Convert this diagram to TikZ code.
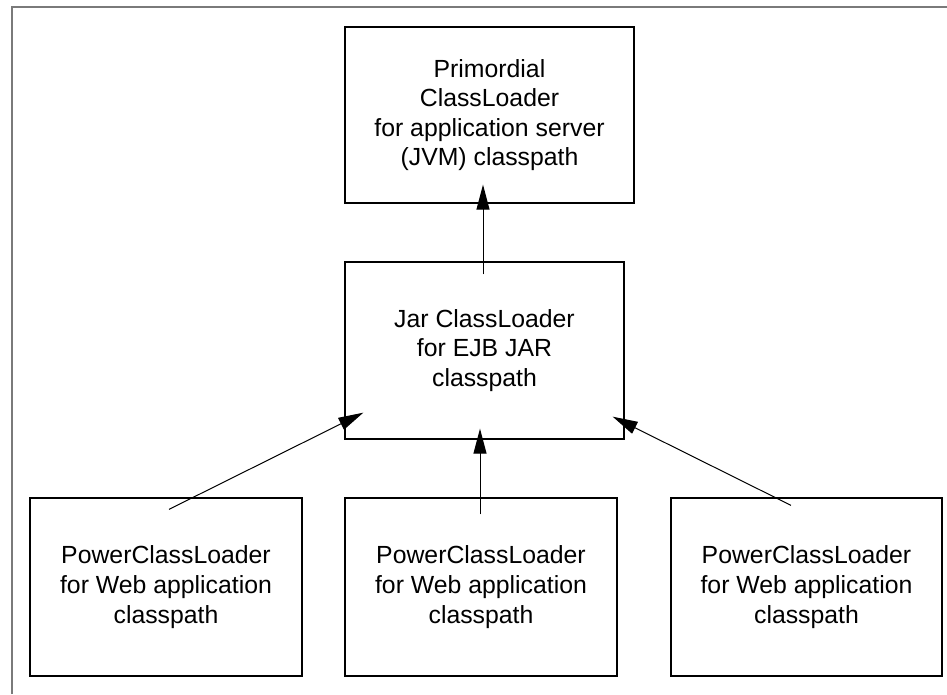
\documentclass[tikz,border=0pt]{standalone}
\usepackage{fontspec}
\setmainfont{Liberation Sans}
\usepackage{xcolor}
\usetikzlibrary{positioning,arrows.meta,calc}
\definecolor{framegrey}{HTML}{7A7A7A}

\begin{document}
\begin{tikzpicture}[x=1pt,y=-1pt,
  loader/.style={draw=black,line width=1.3pt,align=center,font=\fontsize{24.8}{29.6}\selectfont,inner sep=0pt},
  uparrow/.style={-{Triangle[length=25pt,width=13pt]},line width=1pt}
]
\useasboundingbox (0,0) rectangle (947,694);
% frame, only top and left edges visible
\draw[framegrey,line width=1.5pt] (12,694) -- (12,7) -- (947,7);

\node[loader,minimum width=289pt,minimum height=176pt] (prim) at (489.5,115) {Primordial\\ClassLoader\\for application server\\(JVM) classpath};
\node[loader,minimum width=279pt,minimum height=177pt] (jar) at (484.5,350.5) {Jar ClassLoader\\for EJB JAR\\classpath};
\node[loader,minimum width=272pt,minimum height=178pt] (web1) at (166,587) {PowerClassLoader\\for Web application\\classpath};
\node[loader,minimum width=272pt,minimum height=178pt] (web2) at (481,587) {PowerClassLoader\\for Web application\\classpath};
\node[loader,minimum width=271pt,minimum height=178pt] (web3) at (806.5,587) {PowerClassLoader\\for Web application\\classpath};

% arrow ends sit just inside the boxes
\coordinate (jartop) at ($(jar.north)+(-1.5,13)$);
\coordinate (primin) at ($(prim.south)+(-6.5,-19)$);
\coordinate (w1in) at ($(web1.north)+(3,12)$);
\coordinate (w2in) at ($(web2.north)+(-1,17)$);
\coordinate (w3in) at ($(web3.north)+(-15.5,8)$);
\coordinate (jarsw) at ($(jar.south west)+(19,-27)$);
\coordinate (jars) at ($(jar.south)+(-4.5,-11)$);
\coordinate (jarse) at ($(jar.south east)+(-12,-23)$);

\draw[uparrow] (jartop) -- (primin);
\draw[uparrow] (w1in) -- (jarsw);
\draw[uparrow] (w2in) -- (jars);
\draw[uparrow] (w3in) -- (jarse);
\end{tikzpicture}
\end{document}
